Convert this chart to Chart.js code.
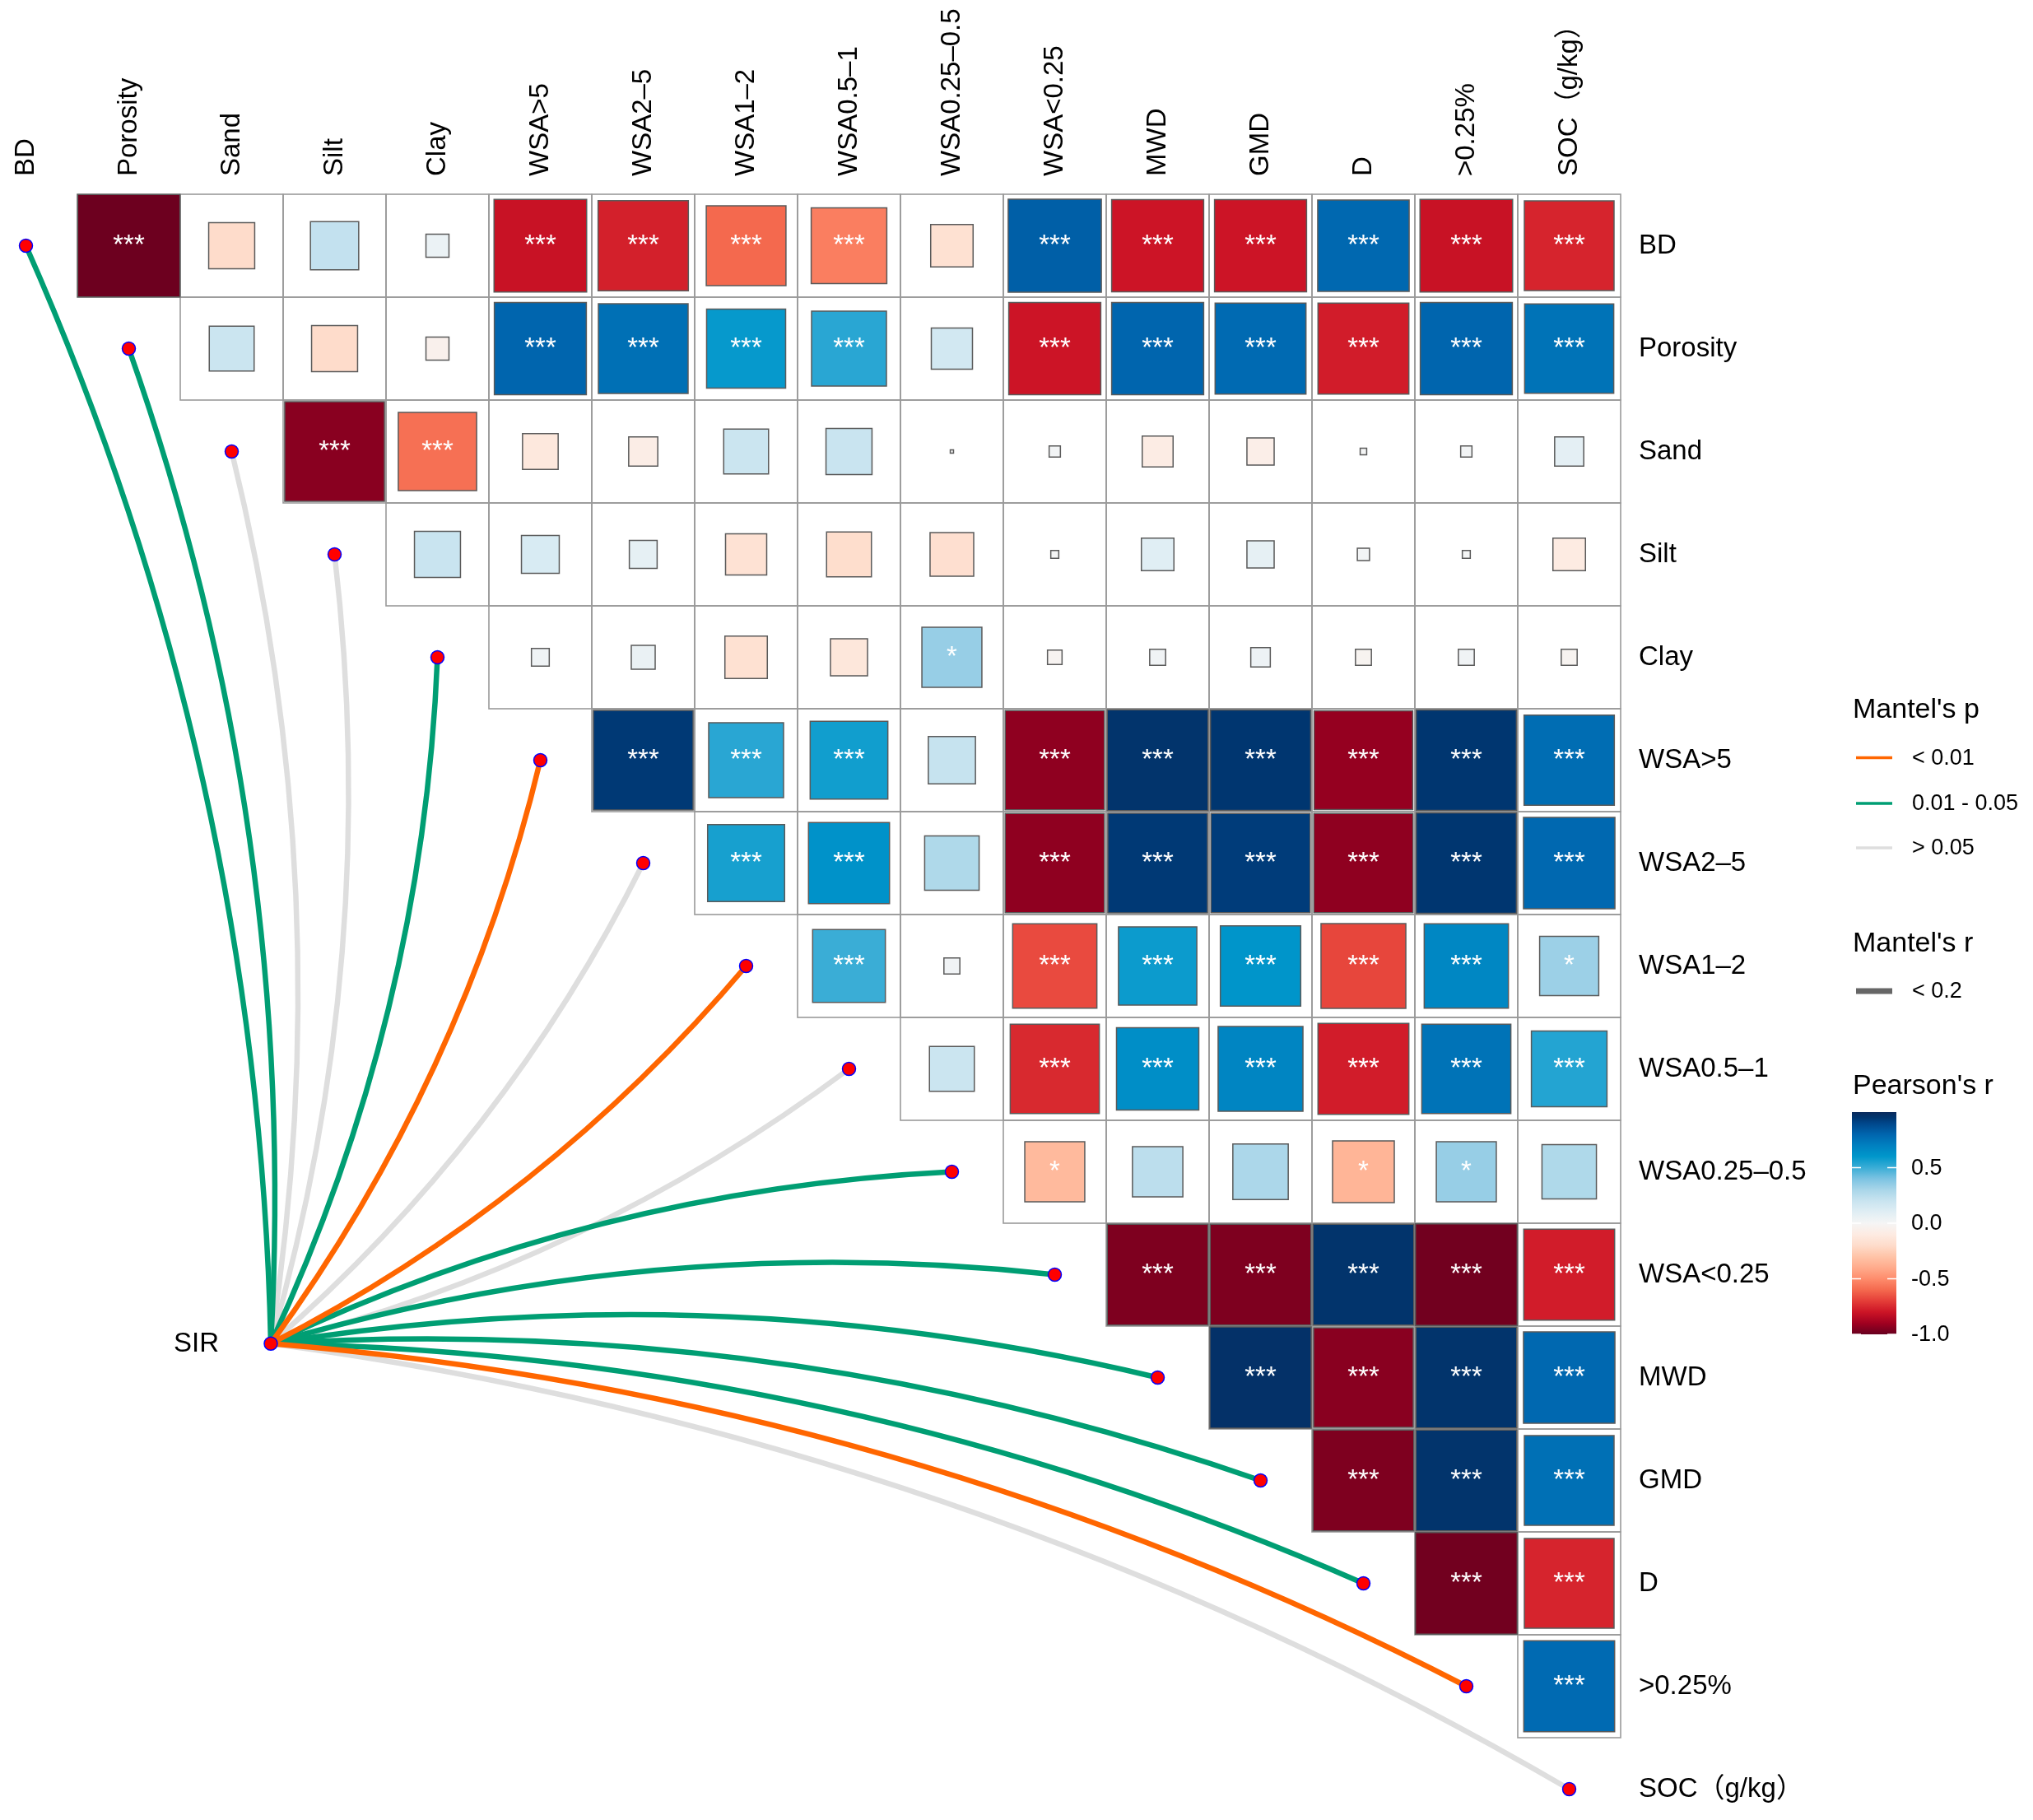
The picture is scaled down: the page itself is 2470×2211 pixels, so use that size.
<!DOCTYPE html>
<html>
<head>
<meta charset="utf-8">
<script src="https://cdn.jsdelivr.net/npm/chart.js@4.4.1/dist/chart.umd.min.js"></script>
<style>
  html, body { margin: 0; padding: 0; background: #fff; }
</style>
</head>
<body>
<canvas id="chart" width="2470" height="2211"></canvas>
<script>
// variables, in grid order (rows top->bottom, columns left->right)
const vars = ['BD', 'Porosity', 'Sand', 'Silt', 'Clay', 'WSA>5', 'WSA2–5', 'WSA1–2', 'WSA0.5–1',
  'WSA0.25–0.5', 'WSA<0.25', 'MWD', 'GMD', 'D', '>0.25%', 'SOC（g/kg）'];

// Pearson's r, upper triangle: row i holds columns i+1 .. 15
const pearsonR = [
  [-0.99, -0.20, 0.22, 0.05, -0.81, -0.77, -0.60, -0.54, -0.17, 0.82, -0.80, -0.80, 0.79, -0.81, -0.76],
  [0.19, -0.20, -0.05, 0.80, 0.76, 0.59, 0.53, 0.16, -0.80, 0.80, 0.78, -0.78, 0.80, 0.75],
  [-0.94, -0.58, -0.12, -0.08, 0.19, 0.20, 0.001, 0.012, -0.09, -0.07, 0.004, 0.012, 0.08],
  [0.20, 0.135, 0.073, -0.16, -0.19, -0.18, 0.006, 0.10, 0.07, 0.014, 0.006, -0.10],
  [0.03, 0.054, -0.17, -0.13, 0.34, -0.02, 0.024, 0.036, -0.024, 0.024, -0.024],
  [0.94, 0.53, 0.57, 0.21, -0.93, 0.96, 0.95, -0.92, 0.95, 0.77],
  [0.56, 0.62, 0.28, -0.93, 0.94, 0.93, -0.93, 0.95, 0.79],
  [0.50, 0.024, -0.67, 0.58, 0.61, -0.68, 0.67, 0.33],
  [0.19, -0.75, 0.64, 0.68, -0.78, 0.75, 0.54],
  [-0.34, 0.24, 0.29, -0.36, 0.34, 0.28],
  [-0.96, -0.96, 0.96, -0.98, -0.78],
  [0.97, -0.94, 0.96, 0.79],
  [-0.96, 0.96, 0.76],
  [-0.98, -0.76],
  [0.78]
];

const pearsonSig = [
  ['***', '', '', '', '***', '***', '***', '***', '', '***', '***', '***', '***', '***', '***'],
  ['', '', '', '***', '***', '***', '***', '', '***', '***', '***', '***', '***', '***'],
  ['***', '***', '', '', '', '', '', '', '', '', '', '', ''],
  ['', '', '', '', '', '', '', '', '', '', '', ''],
  ['', '', '', '', '*', '', '', '', '', '', ''],
  ['***', '***', '***', '', '***', '***', '***', '***', '***', '***'],
  ['***', '***', '', '***', '***', '***', '***', '***', '***'],
  ['***', '', '***', '***', '***', '***', '***', '*'],
  ['', '***', '***', '***', '***', '***', '***'],
  ['*', '', '', '*', '*', ''],
  ['***', '***', '***', '***', '***'],
  ['***', '***', '***', '***'],
  ['***', '***', '***'],
  ['***', '***'],
  ['***']
];

// Mantel test SIR vs each variable
const mantelPLevels = ['< 0.01', '0.01 - 0.05', '> 0.05'];
const mantelP = ['0.01 - 0.05', '0.01 - 0.05', '> 0.05', '> 0.05', '0.01 - 0.05', '< 0.01', '> 0.05',
  '< 0.01', '> 0.05', '0.01 - 0.05', '0.01 - 0.05', '0.01 - 0.05', '0.01 - 0.05', '0.01 - 0.05',
  '< 0.01', '> 0.05'];
const mantelRLevels = ['< 0.2'];

// fill scale for Pearson's r
const rampValues = [-1, -0.9, -0.8, -0.7, -0.6, -0.5, -0.4, -0.3, -0.2, -0.1, 0,
  0.1, 0.2, 0.3, 0.4, 0.5, 0.6, 0.7, 0.8, 0.9, 0.95, 1];
const rampColors = ['#67001F', '#A00020', '#CC1426', '#E43D38', '#F4694E', '#FE8C6C', '#FFAB8C',
  '#FFC4A8', '#FEDCCB', '#FDEBE2', '#F5F5F5', '#E0EEF4', '#C9E4F0', '#A9D6E9', '#7CC3E2',
  '#3AADD6', '#0097CB', '#0080C0', '#0065AE', '#00468A', '#003670', '#0A2A5C'];
const colorbarTicks = [0.5, 0, -0.5, -1];
const colorbarLabels = ['0.5', '0.0', '-0.5', '-1.0'];

const FONT = "'Liberation Sans', 'Noto Sans CJK SC', Arial, sans-serif";
const linkColors = { '< 0.01': '#FF6600', '0.01 - 0.05': '#009E73', '> 0.05': '#DEDEDE' };
const sirPos = { x: 2.38, y: 10.67 };

function hexToRgb(h) {
  const n = parseInt(h.slice(1), 16);
  return [(n >> 16) & 255, (n >> 8) & 255, n & 255];
}

function rampColor(v) {
  v = Math.max(-1, Math.min(1, v));
  for (let i = 0; i < rampValues.length - 1; i++) {
    if (v <= rampValues[i + 1]) {
      const t = (v - rampValues[i]) / (rampValues[i + 1] - rampValues[i]);
      const a = hexToRgb(rampColors[i]), b = hexToRgb(rampColors[i + 1]);
      const c = a.map((x, k) => Math.round(x + (b[k] - x) * t));
      return `rgb(${c[0]},${c[1]},${c[2]})`;
    }
  }
  return rampColors[rampColors.length - 1];
}

// cell points built from the matrix
const cellPoints = [];
pearsonR.forEach((row, i) => {
  row.forEach((v, k) => {
    cellPoints.push({ x: i + 1 + k, y: i, v: v, sig: pearsonSig[i][k] });
  });
});
const nodePoints = vars.map((v, i) => ({ x: i, y: i }));
nodePoints.push({ x: sirPos.x, y: sirPos.y });

function cellSize(chart) {
  const xs = chart.scales.x;
  return xs.getPixelForValue(1) - xs.getPixelForValue(0);
}

function noPad(axis) {
  axis.paddingLeft = 0;
  axis.paddingRight = 0;
  axis.paddingTop = 0;
  axis.paddingBottom = 0;
}

// grid + mantel links, under the marks
const backPlugin = {
  id: 'backPlugin',
  beforeDatasetsDraw(chart) {
    const { ctx, scales: { x: xs, y: ys } } = chart;
    ctx.save();
    ctx.strokeStyle = '#9a9a9a';
    ctx.lineWidth = 1.6;
    for (let i = 0; i < vars.length - 1; i++) {
      for (let j = i + 1; j < vars.length; j++) {
        const x0 = xs.getPixelForValue(j - 0.5), x1 = xs.getPixelForValue(j + 0.5);
        const y0 = ys.getPixelForValue(i - 0.5), y1 = ys.getPixelForValue(i + 0.5);
        ctx.strokeRect(x0, y0, x1 - x0, y1 - y0);
      }
    }

    const sx = xs.getPixelForValue(sirPos.x), sy = ys.getPixelForValue(sirPos.y);
    ctx.lineWidth = 6.5;
    ctx.lineCap = 'butt';
    // grey first, coloured on top
    const order = ['> 0.05', '0.01 - 0.05', '< 0.01'];
    order.forEach(level => {
      vars.forEach((name, i) => {
        if (mantelP[i] !== level) return;
        const tx = xs.getPixelForValue(i), ty = ys.getPixelForValue(i);
        const dx = tx - sx, dy = ty - sy, L = Math.hypot(dx, dy);
        const ang = Math.atan2(-dy, dx) * 180 / Math.PI;
        const side = ang > 20 ? 1 : -1;
        const nx = side * -dy / L, ny = side * dx / L;
        const cx = (sx + tx) / 2 + nx * 0.1 * L, cy = (sy + ty) / 2 + ny * 0.1 * L;
        ctx.strokeStyle = linkColors[level];
        ctx.beginPath();
        ctx.moveTo(sx, sy);
        ctx.quadraticCurveTo(cx, cy, tx, ty);
        ctx.stroke();
      });
    });
    ctx.restore();
  }
};

// stars, column labels, SIR label and legends
const frontPlugin = {
  id: 'frontPlugin',
  afterDatasetsDraw(chart) {
    const { ctx, scales: { x: xs, y: ys } } = chart;
    ctx.save();

    ctx.fillStyle = '#ffffff';
    ctx.font = `33px ${FONT}`;
    ctx.textAlign = 'center';
    ctx.textBaseline = 'middle';
    cellPoints.forEach(p => {
      if (p.sig) ctx.fillText(p.sig, xs.getPixelForValue(p.x), ys.getPixelForValue(p.y));
    });

    ctx.fillStyle = '#000';
    ctx.font = `33px ${FONT}`;
    ctx.textAlign = 'left';
    const labelBase = ys.getPixelForValue(-0.5) - 22;
    vars.forEach((name, j) => {
      ctx.save();
      ctx.translate(xs.getPixelForValue(j), labelBase);
      ctx.rotate(-Math.PI / 2);
      ctx.fillText(name, 0, 0);
      ctx.restore();
    });

    ctx.textAlign = 'right';
    ctx.fillText('SIR', xs.getPixelForValue(sirPos.x) - 63, ys.getPixelForValue(sirPos.y) + 1);

    // legend: Mantel's p
    const lx = 2251;
    ctx.textAlign = 'left';
    ctx.font = `34px ${FONT}`;
    ctx.fillText("Mantel's p", lx, 863);
    const pRows = [920.5, 976, 1030];
    mantelPLevels.forEach((lvl, k) => {
      ctx.strokeStyle = linkColors[lvl];
      ctx.lineWidth = 3.5;
      ctx.beginPath();
      ctx.moveTo(2255, pRows[k]);
      ctx.lineTo(2299, pRows[k]);
      ctx.stroke();
      ctx.fillStyle = '#000';
      ctx.font = `27px ${FONT}`;
      ctx.fillText(lvl, 2323, pRows[k] + 1);
    });

    // legend: Mantel's r
    ctx.font = `34px ${FONT}`;
    ctx.fillText("Mantel's r", lx, 1147);
    mantelRLevels.forEach((lvl, k) => {
      const yy = 1204 + k * 55;
      ctx.strokeStyle = '#666666';
      ctx.lineWidth = 7;
      ctx.beginPath();
      ctx.moveTo(2255, yy);
      ctx.lineTo(2299, yy);
      ctx.stroke();
      ctx.font = `27px ${FONT}`;
      ctx.fillText(lvl, 2323, yy + 1);
    });

    // legend: Pearson's r colourbar
    ctx.font = `34px ${FONT}`;
    ctx.fillText("Pearson's r", lx, 1320);
    const barX = 2250, barW = 54, barTop = 1351, barBot = 1621;
    const vToY = v => barBot - (v + 1) / 2 * (barBot - barTop);
    const grad = ctx.createLinearGradient(0, barBot, 0, barTop);
    rampValues.forEach((v, k) => grad.addColorStop((v + 1) / 2, rampColors[k]));
    ctx.fillStyle = grad;
    ctx.fillRect(barX, barTop, barW, barBot - barTop);
    ctx.strokeStyle = '#ffffff';
    ctx.lineWidth = 1.5;
    colorbarTicks.forEach((v, k) => {
      const yy = vToY(v);
      ctx.beginPath();
      ctx.moveTo(barX, yy); ctx.lineTo(barX + 11, yy);
      ctx.moveTo(barX + barW - 11, yy); ctx.lineTo(barX + barW, yy);
      ctx.stroke();
      ctx.fillStyle = '#000';
      ctx.font = `27px ${FONT}`;
      ctx.fillText(colorbarLabels[k], 2322, yy + 1);
    });

    ctx.restore();
  }
};

new Chart(document.getElementById('chart'), {
  type: 'scatter',
  data: {
    datasets: [
      {
        label: 'nodes',
        data: nodePoints,
        pointStyle: 'circle',
        pointRadius: 8,
        backgroundColor: '#FF0000',
        borderColor: '#0000FF',
        borderWidth: 1.5,
        clip: false
      },
      {
        label: "Pearson's r",
        data: cellPoints,
        pointStyle: 'rect',
        pointRadius: (c) => c.raw ? Math.sqrt(Math.abs(c.raw.v)) * cellSize(c.chart) / Math.SQRT2 : 0,
        backgroundColor: (c) => c.raw ? rampColor(c.raw.v) : '#fff',
        borderColor: '#5a5a5a',
        borderWidth: 1.5,
        clip: false
      }
    ]
  },
  options: {
    responsive: false,
    animation: false,
    events: [],
    layout: { padding: 0, autoPadding: false },
    plugins: {
      legend: { display: false },
      tooltip: { enabled: false }
    },
    scales: {
      x: {
        type: 'linear',
        position: 'top',
        min: -0.252,
        max: 15.508,
        afterFit: (axis) => { axis.height = 236; noPad(axis); },
        ticks: { display: false },
        grid: { display: false },
        border: { display: false }
      },
      y: {
        type: 'linear',
        position: 'right',
        reverse: true,
        min: -0.5,
        max: 15.3,
        afterFit: (axis) => { axis.width = 500; noPad(axis); },
        afterBuildTicks: (axis) => { axis.ticks = vars.map((v, i) => ({ value: i })); },
        ticks: {
          callback: (value) => vars[value],
          font: { family: FONT, size: 33 },
          color: '#000',
          padding: 13
        },
        grid: { display: false },
        border: { display: false }
      }
    }
  },
  plugins: [backPlugin, frontPlugin]
});
</script>
</body>
</html>
